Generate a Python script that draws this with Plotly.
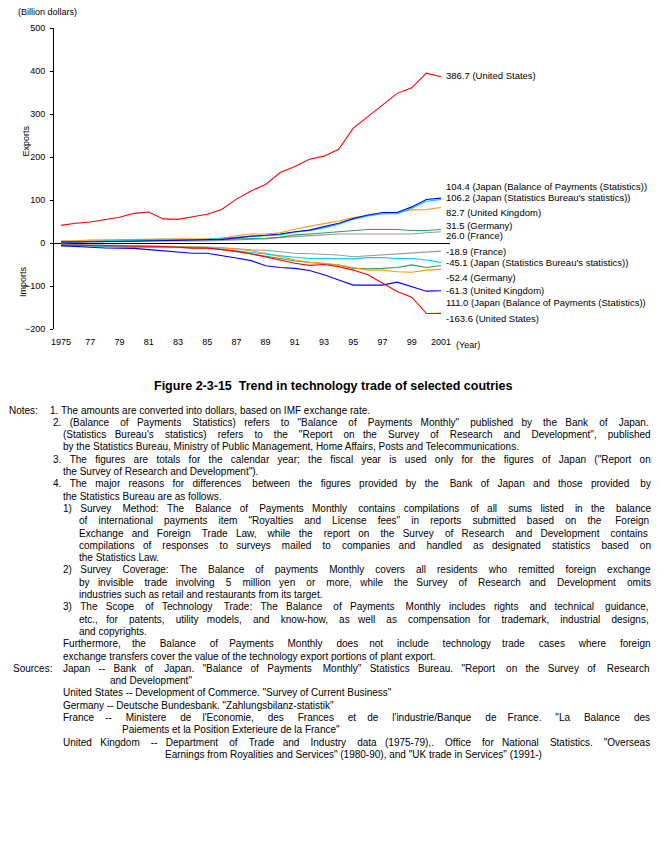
import plotly.graph_objects as go

years = list(range(1975, 2002))

us_exp = [41, 46, 49, 55, 60, 69, 72, 56, 55, 61, 67, 78, 102, 121, 136, 164, 178, 195, 202, 218, 267, 294, 321, 348, 361, 395, 386.7]
us_imp = [-4.7, -5, -5.5, -6, -7, -7.2, -6.5, -8, -10, -12, -12, -15, -19, -25, -32, -40, -47, -52, -50, -55, -63, -74, -94, -113, -126, -164, -163.6]

jbop_exp = [2, 2, 2.5, 3, 3.5, 4, 5, 5.5, 6, 7.5, 7.5, 8.5, 12, 16, 18, 21, 26, 30, 38, 46, 57, 65, 71, 71, 84, 101, 104.4]
jbop_imp = [-6, -8.5, -10, -11.6, -12, -12.5, -15.5, -17.8, -20, -24, -24, -29, -35, -41, -53, -57, -59, -64, -74, -86, -98, -98, -98, -91, -102, -112, -111.0]

jsb_exp = [1.5, 2, 3, 4.5, 6.5, 7.5, 8, 8.5, 8, 8, 8.5, 11.5, 14, 15, 17, 19, 25, 29, 35, 43.5, 55, 63, 68, 68, 81, 97, 101]
jsb_imp = [-4, -5, -6, -9, -10, -10, -9.5, -9.5, -10, -10, -11, -14, -19, -22, -25, -29.5, -33, -36, -36, -37, -37, -34, -34, -36, -36, -39.5, -45.1]

uk_exp = [5, 5, 7, 7.5, 8, 9, 9.5, 9.5, 9.5, 9, 9.5, 10.5, 17, 21, 21, 24, 32, 39, 45, 51, 59, 64, 68, 71, 77, 78, 82.7]
uk_imp = [-2.5, -4, -5, -6, -6.5, -7, -7.5, -8, -8, -8.5, -9, -11, -14, -18, -24, -32, -39.5, -45, -47, -51, -57, -63, -63, -67, -68, -63, -61.3]

de_exp = [3.5, 3.5, 4, 4.5, 5, 5.5, 6, 6, 6, 6, 6.5, 8, 9.5, 10, 11, 13, 19, 21, 24, 26, 30, 31.5, 31.5, 31.5, 29, 29, 31.5]
de_imp = [-7, -6.5, -7, -8, -8.5, -9, -9.5, -10, -10, -11, -11.5, -15, -20, -25, -29.5, -36, -42, -45, -47, -51, -59, -60, -59, -57, -51, -57, -52.4]

fr_exp = [3, 3, 4, 4.5, 5, 5, 5.5, 4, 4.5, 4, 4.5, 6, 7, 8, 9.5, 13, 14.5, 16, 19, 21, 21, 22, 21, 21, 21, 24, 26.0]
fr_imp = [-3, -3.5, -4, -4.5, -5.5, -6.5, -7, -8, -8.5, -9, -9.5, -11, -14, -16, -17, -20, -24, -25, -26, -28, -32, -30, -28, -26, -24, -21.7, -18.9]

x_tickvals = list(range(1975, 2002, 2))
x_ticktext = ["1975", "77", "79", "81", "83", "85", "87", "89", "91", "93", "95", "97", "99", "2001"]
y_tickvals = [-200, -100, 0, 100, 200, 300, 400, 500]

end_labels = [
    "386.7 (United States)",
    "104.4 (Japan (Balance of Payments (Statistics))",
    "106.2 (Japan (Statistics Bureau's statistics))",
    "82.7 (United Kingdom)",
    "31.5 (Germany)",
    "26.0 (France)",
    "-18.9 (France)",
    "-45.1 (Japan (Statistics Bureau's statistics))",
    "-52.4 (Germany)",
    "-61.3 (United Kingdom)",
    "111.0 (Japan (Balance of Payments (Statistics))",
    "-163.6 (United States)",
]

notes_lines = [
    "1. The amounts are converted into dollars, based on IMF exchange rate.",
    "2. (Balance of Payments Statistics) refers to \"Balance of Payments Monthly\" published by the Bank of Japan.",
    "(Statistics Bureau's statistics) refers to the \"Report on the Survey of Research and Development\", published",
    "by the Statistics Bureau, Ministry of Public Management, Home Affairs, Posts and Telecommunications.",
    "3. The figures are totals for the calendar year; the fiscal year is used only for the figures of Japan (\"Report on",
    "the Survey of Research and Development\").",
    "4. The major reasons for differences between the figures provided by the Bank of Japan and those provided by",
    "the Statistics Bureau are as follows.",
    "1) Survey Method: The Balance of Payments Monthly contains compilations of all sums listed in the balance",
    "of international payments item \"Royalties and License fees\" in reports submitted based on the Foreign",
    "Exchange and Foreign Trade Law, while the report on the Survey of Research and Development contains",
    "compilations of responses to surveys mailed to companies and handled as designated statistics based on",
    "the Statistics Law.",
    "2) Survey Coverage: The Balance of payments Monthly covers all residents who remitted foreign exchange",
    "by invisible trade involving 5 million yen or more, while the Survey of Research and Development omits",
    "industries such as retail and restaurants from its target.",
    "3) The Scope of Technology Trade: The Balance of Payments Monthly includes rights and technical guidance,",
    "etc., for patents, utility models, and know-how, as well as compensation for trademark, industrial designs,",
    "and copyrights.",
    "Furthermore, the Balance of Payments Monthly does not include technology trade cases where foreign",
    "exchange transfers cover the value of the technology export portions of plant export.",
    "Japan -- Bank of Japan. \"Balance of Payments Monthly\" Statistics Bureau. \"Report on the Survey of Research",
    "and Development\"",
    "United States -- Development of Commerce. \"Survey of Current Business\"",
    "Germany -- Deutsche Bundesbank. \"Zahlungsbilanz-statistik\"",
    "France -- Ministere de l'Economie, des Frances et de l'industrie/Banque de France. \"La Balance des",
    "Paiements et la Position Exterieure de la France\"",
    "United Kingdom -- Department of Trade and Industry data (1975-79),. Office for National Statistics. \"Overseas",
    "Earnings from Royalities and Services\" (1980-90), and \"UK trade in Services\" (1991-)",
]

# ---------------- layout / styling (reference pixel coordinates) ----------------
notes_x = [50, 53, 63, 63, 53, 63, 53, 63, 63, 79, 79, 79, 79, 63, 79, 79, 63, 79, 79, 63, 63, 63, 110, 63, 63, 63, 122, 63, 165]
justified = {1, 2, 4, 6, 8, 9, 10, 11, 13, 14, 16, 17, 19, 21, 25, 27}
RIGHT_EDGE = 650
label_py = [75, 186, 197.3, 213, 225.7, 235.7, 251, 262.7, 277, 290.7, 302.7, 318.3]

OFF = 8                      # page body margin of the browser
W, H = 664 - OFF, 850 - OFF
L, T = 54 - OFF, 28 - OFF
PW, PH = 396, 301
R, B = W - L - PW, H - T - PH


def px(xp):
    return (xp - OFF - L) / PW


def py(yp):
    return (T + PH - (yp - OFF)) / PH


X0 = 1975 - 7 / 14.615
X1 = X0 + PW / 14.615

# Arial / Liberation Sans advance widths (1/1000 em)
AW = {' ': 278, '\u00a0': 278, '!': 278, '"': 355, "'": 191, '(': 333, ')': 333, ',': 278, '-': 333,
      '.': 278, '/': 278, ':': 278, ';': 278, '?': 556}
for c in '0123456789':
    AW[c] = 556
AW.update(dict(zip('ABCDEFGHIJKLMNOPQRSTUVWXYZ',
                   [667, 667, 722, 722, 667, 611, 778, 722, 278, 500, 667, 556, 833, 722, 778, 667,
                    778, 722, 667, 611, 722, 667, 944, 667, 667, 611])))
AW.update(dict(zip('abcdefghijklmnopqrstuvwxyz',
                   [556, 556, 500, 556, 556, 278, 556, 556, 222, 222, 500, 222, 833, 556, 556, 556,
                    556, 333, 500, 278, 556, 500, 722, 500, 500, 500])))


def text_w(s, size):
    return sum(AW.get(c, 556) for c in s) * size / 1000.0


def justify(s, width, size):
    words = s.split(' ')
    gaps = len(words) - 1
    extra = width - text_w(s, size)
    k = max(0, int(round(extra / (0.278 * size))))
    out = words[0]
    for i in range(gaps):
        n = (k * (i + 1)) // gaps - (k * i) // gaps
        out += '\u00a0' * (1 + n) + words[i + 1]
    return out


fig = go.Figure()

series = [
    (fr_exp, fr_imp, "#999999"),
    (de_exp, de_imp, "#339966"),
    (uk_exp, uk_imp, "#FF9900"),
    (jsb_exp, jsb_imp, "#00CCFF"),
    (jbop_exp, jbop_imp, "#0000FF"),
    (us_exp, us_imp, "#FF0000"),
]
for ex, im, col in series:
    for vals in (ex, im):
        fig.add_trace(go.Scatter(x=years, y=vals, mode="lines",
                                 line=dict(color=col, width=1.1),
                                 hoverinfo="skip"))

ann = []


def add_text(txt, xr, yr, size, xanchor="left", angle=0):
    ann.append(dict(x=px(xr), y=py(yr), xref="paper", yref="paper", text=txt,
                    showarrow=False, xanchor=xanchor, yanchor="middle", textangle=angle,
                    borderpad=0, borderwidth=0, font=dict(size=size, color="black")))


for txt, yp in zip(end_labels, label_py):
    add_text(txt, 445.5, yp, 9.5)

add_text("(Billion dollars)", 18, 11.5, 9)
add_text("Exports", 25.5, 141, 9, xanchor="center", angle=-90)
add_text("Imports", 23, 282, 9, xanchor="center", angle=-90)
add_text("(Year)", 456, 345, 9)
add_text("<b>Figure 2-3-15  Trend in technology trade of selected coutries</b>", 333, 386, 12.5,
         xanchor="center")

y0, step = 410, 12.3
add_text("Notes:", OFF + 1, y0, 10)
add_text("Sources:", 13, y0 + 21 * step, 10)
for i, (txt, xp) in enumerate(zip(notes_lines, notes_x)):
    t = justify(txt, RIGHT_EDGE - xp, 10) if i in justified else txt
    add_text(t, xp, y0 + i * step, 10)

fig.update_layout(
    width=W, height=H,
    margin=dict(l=L, r=R, t=T, b=B, pad=0),
    paper_bgcolor="white", plot_bgcolor="white",
    showlegend=False,
    font=dict(family="Liberation Sans, Arial, sans-serif", color="black"),
    annotations=ann,
    xaxis=dict(range=[X0, X1], tickvals=x_tickvals, ticktext=x_ticktext,
               showgrid=False, zeroline=False, showline=False, ticks="",
               tickfont=dict(size=9, color="black"), ticklabelstandoff=6),
    yaxis=dict(range=[-200, 500], tickvals=y_tickvals,
               showgrid=False, zeroline=True, zerolinecolor="black", zerolinewidth=1,
               showline=True, linecolor="black", linewidth=1,
               ticks="outside", ticklen=3, tickcolor="black", tickwidth=1,
               tickfont=dict(size=9, color="black"), ticklabelstandoff=3),
)

fig.write_html("out.html")
